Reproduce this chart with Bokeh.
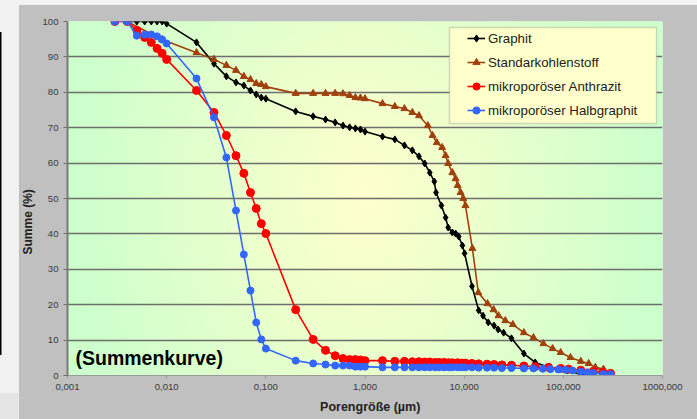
import numpy as np
from bokeh.plotting import figure
from bokeh.models import FixedTicker, BoxAnnotation, Label, Legend, LegendItem, Div
from bokeh.layouts import row, column
from bokeh.embed import file_html
from bokeh.resources import INLINE

# ---------------- data ----------------
X_TICKS = [0.001, 0.01, 0.1, 1, 10, 100, 1000]
X_TICK_LABELS = ["0,001", "0,010", "0,100", "1,000", "10,000", "100,000", "1000,000"]
Y_TICKS = [0, 10, 20, 30, 40, 50, 60, 70, 80, 90, 100]

SERIES_NAMES = ["Graphit", "Standarkohlenstoff", "mikroporöser Anthrazit", "mikroporöser Halbgraphit"]
X_TITLE = "Porengröße (µm)"
Y_TITLE = "Summe (%)"
NOTE = "(Summenkurve)"

graphit_x = [0.004, 0.005, 0.006, 0.007, 0.008, 0.009, 0.01, 0.02, 0.03, 0.04, 0.05, 0.06, 0.07,
             0.08, 0.09, 0.1, 0.2, 0.3, 0.4, 0.5, 0.6, 0.7, 0.8, 0.9, 1.0, 1.5, 2.0, 2.5, 3.0,
             3.5, 4.0, 4.5, 5.0, 5.2, 5.9, 6.5, 6.9, 7.6, 8.2, 8.8, 9.6, 10.1, 12, 14, 15.5, 17.5,
             20, 22, 25, 30, 40, 52, 71, 110, 150, 200]
graphit_y = [100, 100, 100, 100, 100, 100, 99.4, 94.1, 88.1, 84.5, 82.8, 81.9, 80.5,
             79.4, 78.5, 78.2, 74.6, 73.2, 72.3, 71.5, 70.6, 70.1, 69.8, 69.5, 68.9, 67.5, 66.7, 65.0, 63.6,
             61.9, 59.9, 57.3, 54.8, 51.7, 48.0, 44.6, 41.8, 40.4, 40.1, 39.3, 36.7, 34.5, 25.2, 18.4, 16.9, 15.0,
             14.1, 13.0, 12.1, 10.5, 6.2, 3.7, 2.3, 1.4, 0.3, 0.2]

standard_x = [0.004, 0.009, 0.02, 0.03, 0.04, 0.05, 0.06, 0.07, 0.08, 0.09, 0.1, 0.2, 0.3, 0.4, 0.5,
              0.6, 0.7, 0.8, 0.9, 1.0, 1.5, 2.0, 2.5, 3.0, 3.5, 4.3, 4.8, 5.3, 6.0, 6.5, 6.9, 7.6, 8.2,
              8.6, 9.2, 9.8, 10.3, 12.1, 13.9, 17.2, 19.8, 22.2, 26, 31, 40, 50, 63, 78, 94, 118,
              150, 180, 210, 254]
standard_y = [100, 94.9, 91.2, 89.3, 87.6, 86.2, 84.5, 83.6, 82.5, 82.2, 81.6, 79.7, 79.7, 79.7, 79.7,
              79.6, 79.1, 78.5, 78.4, 78.2, 76.8, 76.0, 75.4, 74.3, 73.4, 70.6, 67.8, 65.8, 64.4, 62.1, 59.9, 57.3, 55.6,
              53.7, 51.7, 50.0, 48.0, 35.9, 23.4, 20.3, 18.6, 16.9, 15.5, 14.4, 12.1, 10.7, 9.0, 7.6, 6.5, 5.1,
              4.0, 3.4, 2.3, 1.8]

anthrazit_x = [0.003, 0.004, 0.005, 0.006, 0.007, 0.008, 0.009, 0.01, 0.02, 0.03, 0.04, 0.05, 0.06,
               0.07, 0.08, 0.09, 0.1, 0.2, 0.3, 0.4, 0.5, 0.6, 0.7, 0.8, 0.9, 1.0, 1.5, 2.0, 2.5, 3.0,
               3.5, 4.0, 4.5, 5.1, 5.6, 6.3, 7.0, 7.6, 8.6, 9.4, 10.3, 12, 14, 17, 20, 24, 30, 40, 52,
               71, 94, 113, 150, 200, 250, 300]
anthrazit_y = [100, 100, 97.5, 95.5, 94.1, 92.4, 91.0, 89.3, 80.5, 74.3, 67.8, 62.1, 57.1,
               51.7, 47.2, 42.9, 40.1, 18.6, 10.2, 7.1, 5.6, 4.8, 4.5, 4.5, 4.4, 4.2, 4.2, 4.0, 4.0, 3.9,
               3.9, 3.8, 3.8, 3.7, 3.7, 3.7, 3.6, 3.6, 3.6, 3.5, 3.5, 3.4, 3.3, 3.2, 3.1, 3.0, 2.9, 2.7, 2.5,
               2.3, 2.0, 1.8, 1.5, 1.2, 0.9, 0.6]

halbgraphit_x = [0.003, 0.004, 0.005, 0.006, 0.007, 0.008, 0.009, 0.01, 0.02, 0.03, 0.04, 0.05, 0.06,
                 0.07, 0.08, 0.09, 0.1, 0.2, 0.3, 0.4, 0.5, 0.6, 0.7, 0.8, 0.9, 1.0, 1.5, 2.0, 2.5, 3.0,
                 3.5, 4.0, 4.5, 5.1, 5.6, 6.3, 7.0, 7.6, 8.6, 9.4, 10.3, 12, 14, 17, 20, 24, 30, 40, 50,
                 62, 74, 89, 105, 124, 150, 175, 200, 254, 300]
halbgraphit_y = [100, 100, 96.0, 96.3, 96.3, 95.8, 94.9, 93.8, 83.9, 72.9, 61.6, 46.6, 34.2,
                 24.0, 15.0, 10.2, 7.6, 4.2, 3.4, 3.1, 2.8, 2.8, 2.8, 2.5, 2.5, 2.5, 2.3, 2.3, 2.3, 2.3,
                 2.3, 2.3, 2.3, 2.3, 2.3, 2.3, 2.3, 2.3, 2.3, 2.3, 2.3, 2.3, 2.2, 2.2, 2.2, 2.1, 2.1, 2.0, 2.0,
                 1.9, 1.8, 1.7, 1.6, 1.4, 1.1, 0.9, 0.7, 0.4, 0.3]

# ---------------- layout ----------------
W, H = 697, 419
STRIP_L, STRIP_T = 18, 4                   # light page strips left / top of the chart panel
PW, PH = W - STRIP_L, H - STRIP_T          # figure size
FL, FR, FT, FB = 67 - STRIP_L, 662 - STRIP_L, 21 - STRIP_T, 375 - STRIP_T   # frame edges inside figure
X0, X1 = 0.001, 1000
Y0, Y1 = 0, 100
FONT = "Liberation Sans"
NBSP = "\u00a0"


def px_to_x(px):
    return 10 ** (np.log10(X0) + (px - FL) / (FR - FL) * (np.log10(X1) - np.log10(X0)))


def py_to_y(py):
    return Y0 + (FB - py) / (FB - FT) * (Y1 - Y0)


p = figure(width=PW, height=PH, x_axis_type="log", x_range=(X0, X1), y_range=(Y0, Y1),
           output_backend="svg", toolbar_location=None,
           min_border_left=FL, min_border_right=PW - FR, min_border_top=FT, min_border_bottom=PH - FB)
p.border_fill_color = "#c0c0c0"
p.background_fill_color = "#ccffcc"
p.outline_line_color = None

# background gradient (yellow centre -> green edges)
nx, ny = 300, 120
gx = np.linspace(-1, 1, nx)[None, :]
gy = np.linspace(-1, 1, ny)[:, None]
t = np.clip(np.sqrt(gx ** 2 + (0.45 * gy) ** 2), 0, 1)
r = (255 - 51 * t).astype(np.uint32)
img = np.empty((ny, nx), dtype=np.uint32)
view = img.view(dtype=np.uint8).reshape((ny, nx, 4))
view[:, :, 0] = r
view[:, :, 1] = 255
view[:, :, 2] = 204
view[:, :, 3] = 255
p.image_rgba(image=[img], x=X0, y=Y0, dw=X1 - X0, dh=Y1 - Y0, level="image")

# grid
p.xgrid.grid_line_color = None
p.ygrid.grid_line_color = "#6e6e6e"
p.ygrid.grid_line_width = 1.6
p.ygrid.ticker = FixedTicker(ticks=Y_TICKS)

# axes
p.xaxis.ticker = FixedTicker(ticks=X_TICKS)
p.xaxis.major_label_overrides = {v: s for v, s in zip(X_TICKS, X_TICK_LABELS)}
p.yaxis.ticker = FixedTicker(ticks=Y_TICKS)
for ax in (p.xaxis, p.yaxis):
    ax.major_label_text_font = FONT
    ax.major_label_text_font_size = "9.6px"
    ax.major_label_text_color = "#3a3a3a"
    ax.major_label_standoff = 5
    ax.minor_tick_line_color = None
    ax.major_tick_in = 0
    ax.axis_label_text_font = FONT
    ax.axis_label_text_font_style = "bold"
    ax.axis_label_text_color = "#222222"
p.yaxis.axis_line_color = "#7a7a7a"
p.yaxis.axis_line_width = 2
p.yaxis.major_tick_line_color = "#6e6e6e"
p.yaxis.major_tick_out = 4
p.xaxis.axis_line_color = "#9a9a9a"
p.xaxis.axis_line_width = 1
p.xaxis.major_tick_line_color = "#9a9a9a"
p.xaxis.major_tick_out = 3

# axis titles (nbsp padding shifts them off-centre like the original)
p.yaxis.axis_label = Y_TITLE + NBSP * 14
p.yaxis.axis_label_text_font_size = "12px"
p.yaxis.axis_label_standoff = 4
p.xaxis.axis_label = NBSP * 3 + X_TITLE
p.xaxis.axis_label_text_font_size = "12.5px"
p.xaxis.axis_label_standoff = 7

p.add_layout(Label(x=px_to_x(75 - STRIP_L), y=py_to_y(357 - STRIP_T), text=NOTE,
                   text_align="left", text_baseline="middle", text_font=FONT,
                   text_font_size="19.5px", text_font_style="bold", text_color="#000000"))

# legend box
p.add_layout(BoxAnnotation(left=px_to_x(449 - STRIP_L), right=px_to_x(656 - STRIP_L),
                           top=py_to_y(27 - STRIP_T), bottom=py_to_y(123 - STRIP_T),
                           fill_color="#ffffcc", fill_alpha=1, line_color="#7a7a7a", line_width=1.5))

# series
styles = [
    (graphit_x, graphit_y, "#000000", "diamond", 7),
    (standard_x, standard_y, "#a0410d", "triangle", 7),
    (anthrazit_x, anthrazit_y, "#ff0000", "circle", 8),
    (halbgraphit_x, halbgraphit_y, "#3366ff", "circle", 7),
]
items = []
for name, (xs, ys, col, mk, sz) in zip(SERIES_NAMES, styles):
    lr = p.line(xs, ys, line_color=col, line_width=1.6)
    sr = p.scatter(xs, ys, marker=mk, size=sz, fill_color=col, line_color=col)
    items.append(LegendItem(label=name, renderers=[lr, sr]))

legend = Legend(items=items, location=(400, 253), padding=0, spacing=0, margin=0,
                label_height=24, glyph_height=24, glyph_width=18, label_standoff=3,
                border_line_alpha=0, background_fill_alpha=0,
                label_text_font=FONT, label_text_font_size="13.3px", label_text_color="#222222")
p.add_layout(legend)

# page strips around the chart panel
top_strip = Div(text="", width=W, height=STRIP_T, margin=0, styles={"background-color": "#f2f2f2"})
left_strip = Div(text="", width=STRIP_L, height=PH, margin=0, styles={
    "background": "linear-gradient(#000,#000) 0px 28px / 1.5px 323px no-repeat, "
                  "linear-gradient(#e4e4e4,#e4e4e4) 0px 389px / 18px 26px no-repeat, #f2f2f2"})
page = column(top_strip, row(left_strip, p, spacing=0), spacing=0)

open("out.html", "w").write(file_html(page, INLINE))
